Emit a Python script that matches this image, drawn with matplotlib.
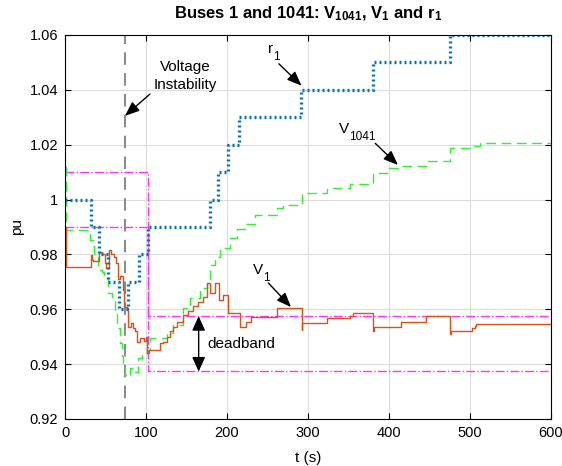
import numpy as np
import matplotlib
matplotlib.use('Agg')
import matplotlib.pyplot as plt

plt.rcParams['font.family'] = ['Liberation Sans', 'DejaVu Sans']
plt.rcParams['mathtext.fontset'] = 'custom'
plt.rcParams['mathtext.rm'] = 'Liberation Sans'
plt.rcParams['mathtext.it'] = 'Liberation Sans'
plt.rcParams['mathtext.bf'] = 'Liberation Sans:bold'

# r1 set point (step)
t_r1 = [0, 32, 42, 53, 67, 78, 91, 103, 179, 189, 201, 215, 291, 380, 475, 600]
r1 = [1.00, 0.99, 0.98, 0.97, 0.96, 0.97, 0.98, 0.99, 1.00, 1.01, 1.02, 1.03,
      1.04, 1.05, 1.06, 1.06]

# V1 (bus 1 voltage)
t_v1 = [0, 1, 31.7, 33, 35, 42.4, 46, 49, 51, 54.7, 57, 60, 63, 65, 68, 71, 73,
        76, 78.2, 81, 84, 87, 89.3, 92, 98, 100, 101.7, 104, 117.3, 121.4,
        125.5, 129.6, 133.7, 137.9, 146, 152.3, 158.4, 164.6, 170.8, 175, 179,
        185, 190.5, 195.5, 201.6, 216, 224, 230, 261.3, 292.2, 293, 323, 352,
        356, 380.5, 381.5, 415.4, 446.3, 475.1, 476, 502, 506, 508, 600]
v1 = [0.990, 0.9755, 0.9798, 0.978, 0.9775, 0.981, 0.980, 0.977, 0.975, 0.9816,
      0.980, 0.979, 0.977, 0.971, 0.972, 0.967, 0.961, 0.9605, 0.9537, 0.955,
      0.953, 0.952, 0.948, 0.9495, 0.9485, 0.950, 0.944, 0.9452, 0.9476, 0.948,
      0.950, 0.952, 0.9537, 0.9555, 0.9579, 0.9595, 0.9612, 0.9628, 0.9646,
      0.9695, 0.966, 0.9695, 0.9634, 0.9652, 0.9585, 0.9537, 0.9555, 0.9573,
      0.9604, 0.9525, 0.9551, 0.9567, 0.9577, 0.9588, 0.952, 0.9537, 0.9555,
      0.9577, 0.951, 0.9522, 0.9532, 0.954, 0.9546, 0.9546]

# V1041 (bus 1041 voltage)
t_v1041 = [0, 1, 31, 34, 36, 41.2, 45.3, 48, 53.5, 57.6, 61.7, 63.8, 67.9, 70,
           72, 74, 76.1, 80.2, 86.4, 90.5, 94.7, 100.8, 105, 125.5, 133.7, 146,
           154.3, 166.7, 175, 179, 185, 191.4, 203.7, 212, 224, 234.6, 261.3,
           269.5, 292, 323, 352, 380.5, 397, 415.4, 446.3, 475, 502, 512.3, 600]
v1041 = [1.012, 0.9889, 0.9853, 0.983, 0.9802, 0.9743, 0.9735, 0.9725, 0.9658,
         0.964, 0.9597, 0.9531, 0.9476, 0.943, 0.9391, 0.936, 0.9355, 0.9385,
         0.9373, 0.9421, 0.9433, 0.9452, 0.9494, 0.9512, 0.9543, 0.9604, 0.964,
         0.9677, 0.9695, 0.9762, 0.979, 0.9822, 0.9859, 0.9892, 0.9911, 0.9944,
         0.9968, 0.998, 1.0023, 1.0041, 1.0057, 1.0098, 1.0114, 1.0122, 1.0141,
         1.0187, 1.0195, 1.0205, 1.0205]

# deadband limits
t_db = [0, 103, 103, 600]
db_hi = [1.01, 1.01, 0.9575, 0.9575]
db_lo = [0.99, 0.99, 0.9375, 0.9375]

t_instab = 74

fig = plt.figure(figsize=(5.62, 4.66), dpi=100)
ax = fig.add_axes([0.1157, 0.1009, 0.8647, 0.824])

ax.grid(True, color='#dcdcdc', lw=0.8)
ax.set_axisbelow(True)

ax.axvline(t_instab, color='#8c8c8c', lw=1.5, ls=(0, (6, 4)))
ax.plot(t_db, db_hi, color='#ff33ff', lw=1, ls='-.')
ax.plot(t_db, db_lo, color='#ff33ff', lw=1, ls='-.')
ax.plot(t_v1041, v1041, color='#33ee33', lw=1, ls=(0, (7, 4)), drawstyle='steps-post')
ax.plot(t_v1, v1, color='#D95319', lw=1, drawstyle='steps-post')
ax.plot(t_r1, r1, color='#0072BD', lw=2.4, ls=(0, (0.6, 0.9)), drawstyle='steps-post')

ax.set_xlim(0, 600)
ax.set_ylim(0.92, 1.06)
ax.set_xticks(np.arange(0, 601, 100))
ax.set_yticks(np.arange(0.92, 1.061, 0.02))
ax.set_yticklabels(['0.92', '0.94', '0.96', '0.98', '1', '1.02', '1.04', '1.06'])
ax.tick_params(direction='in', top=True, right=True, labelsize=10.5, length=4, pad=5)
for s in ax.spines.values():
    s.set_linewidth(0.8)

ax.set_xlabel('t (s)', fontsize=11, labelpad=8)
ax.set_ylabel('pu', fontsize=11)
ax.set_title(r'Buses 1 and 1041: $\mathbf{V_{1041}}$, $\mathbf{V_1}$ and $\mathbf{r_1}$',
             fontsize=12, fontweight='bold', pad=12)


def sub_label(x, y, main, sub, wmain):
    # main letter with a MATLAB-like lowered subscript
    ax.text(x, y, main, ha='left', va='baseline', fontsize=11)
    ax.annotate(sub, (x, y), xytext=(wmain, -5), textcoords='offset points',
                ha='left', va='baseline', fontsize=8.5)


arr = dict(arrowstyle='-|>,head_length=0.55,head_width=0.22', color='k', lw=1,
           mutation_scale=16, shrinkA=0, shrinkB=0)
ax.annotate('', xy=(t_instab, 1.0305), xytext=(105, 1.0385), arrowprops=arr)
ax.text(148, 1.0449, 'Voltage\nInstability', ha='center', va='center', fontsize=11,
        linespacing=1.35)
ax.annotate('', xy=(292, 1.0415), xytext=(264, 1.0495), arrowprops=arr)
sub_label(250.5, 1.0534, 'r', '1', 4.0)
ax.annotate('', xy=(411, 1.0126), xytext=(383, 1.0205), arrowprops=arr)
sub_label(338, 1.0243, 'V', '1041', 7.6)
ax.annotate('', xy=(279, 0.9608), xytext=(251, 0.9696), arrowprops=arr)
sub_label(232, 0.9729, 'V', '1', 7.6)
ax.annotate('', xy=(165, 0.9575), xytext=(165, 0.9373),
            arrowprops=dict(arrowstyle='<|-|>,head_length=0.55,head_width=0.25',
                            color='k', lw=1, mutation_scale=16, shrinkA=0, shrinkB=0))
ax.text(176, 0.9473, 'deadband', ha='left', va='center', fontsize=11)

fig.savefig('out.png', dpi=100)
